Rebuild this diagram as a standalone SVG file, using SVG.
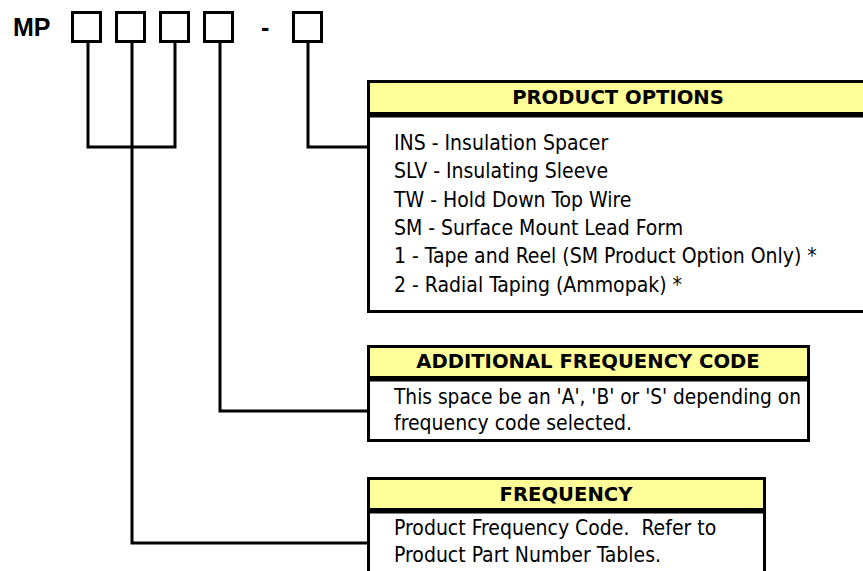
<svg xmlns="http://www.w3.org/2000/svg" width="863" height="571" viewBox="0 0 863 571">
<style>
.bx{fill:#fff;stroke:#000;stroke-width:3}
.hd{fill:#FFFF99;stroke:#000;stroke-width:3}
.dv{stroke:#000;stroke-width:5}
.cn{fill:none;stroke:#000;stroke-width:3}
.ht{font-family:"DejaVu Sans",sans-serif;font-weight:bold;font-size:19.6px;fill:#000;text-anchor:middle}
.bt{font-family:"DejaVu Sans Condensed","DejaVu Sans",sans-serif;font-size:21px;fill:#000}
.mp{font-family:"Liberation Sans",Arial,sans-serif;font-weight:bold;font-size:25px;fill:#000}
</style>
<rect width="863" height="571" fill="#fff"/>
<g id="connectors">
<polyline class="cn" points="88,43 88,147 175,147 175,43"/>
<polyline class="cn" points="132,43 132,543 367,543"/>
<polyline class="cn" points="220,43 220,411 367,411"/>
<polyline class="cn" points="308,43 308,147 367,147"/>
</g>
<g id="part-number">
<text class="mp" x="13" y="36">MP</text>
<rect class="bx" x="72.5" y="12.5" width="28" height="29"/>
<rect class="bx" x="116.5" y="12.5" width="28" height="29"/>
<rect class="bx" x="160.5" y="12.5" width="28" height="29"/>
<rect class="bx" x="204.5" y="12.5" width="28" height="29"/>
<text class="mp" x="261" y="36">-</text>
<rect class="bx" x="293.5" y="12.5" width="28" height="29"/>
</g>
<g id="product-options">
<rect class="bx" x="368.5" y="81.5" width="500" height="230"/>
<rect class="hd" x="368.5" y="81.5" width="500" height="32"/>
<line class="dv" x1="367" y1="115" x2="863" y2="115"/>
<text class="ht" x="618" y="104">PRODUCT OPTIONS</text>
<text class="bt" x="394" y="150">INS - Insulation Spacer</text>
<text class="bt" x="394" y="178">SLV - Insulating Sleeve</text>
<text class="bt" x="394" y="207">TW - Hold Down Top Wire</text>
<text class="bt" x="394" y="235">SM - Surface Mount Lead Form</text>
<text class="bt" x="394" y="263">1 - Tape and Reel (SM Product Option Only) *</text>
<text class="bt" x="394" y="292">2 - Radial Taping (Ammopak) *</text>
</g>
<g id="additional-frequency-code">
<rect class="bx" x="368.5" y="346.5" width="440" height="94"/>
<rect class="hd" x="368.5" y="346.5" width="440" height="31"/>
<line class="dv" x1="367" y1="379" x2="810" y2="379"/>
<text class="ht" x="588" y="368">ADDITIONAL FREQUENCY CODE</text>
<text class="bt" x="394" y="404" textLength="407" lengthAdjust="spacingAndGlyphs">This space be an 'A', 'B' or 'S' depending on</text>
<text class="bt" x="394" y="430">frequency code selected.</text>
</g>
<g id="frequency">
<rect class="bx" x="368.5" y="478.5" width="396" height="110"/>
<rect class="hd" x="368.5" y="478.5" width="396" height="31"/>
<line class="dv" x1="367" y1="511" x2="766" y2="511"/>
<text class="ht" x="566" y="501">FREQUENCY</text>
<text class="bt" x="394" y="535">Product Frequency Code.&#160; Refer to</text>
<text class="bt" x="394" y="562">Product Part Number Tables.</text>
</g>
</svg>
